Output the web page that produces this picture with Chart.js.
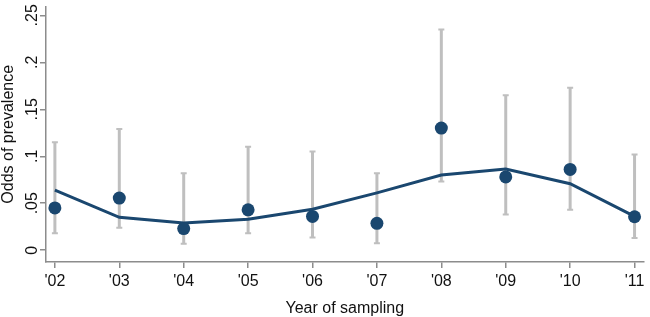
<!DOCTYPE html>
<html lang="en">
  <head>
    <meta charset="UTF-8" />
    <title>Odds of prevalence by year of sampling</title>
    <script src="https://cdn.jsdelivr.net/npm/chart.js"></script>
    <style>
      body {
        margin: 0;
        background: #fff;
      }
      .chart-container {
        width: 650px;
        height: 317px;
      }
    </style>
  </head>
  <body>
    <div class="chart-container">
      <canvas id="oddsChart" width="650" height="317"></canvas>
    </div>

    <script>
      // data
      const years = [2002, 2003, 2004, 2005, 2006, 2007, 2008, 2009, 2010, 2011];
      const yearLabels = ["'02", "'03", "'04", "'05", "'06", "'07", "'08", "'09", "'10", "'11"];
      const odds = [0.045, 0.0555, 0.023, 0.043, 0.036, 0.0286, 0.13, 0.078, 0.086, 0.0356];
      const lowerCI = [0.018, 0.024, 0.007, 0.018, 0.0136, 0.0073, 0.073, 0.038, 0.043, 0.013];
      const upperCI = [0.115, 0.129, 0.082, 0.11, 0.105, 0.082, 0.235, 0.165, 0.173, 0.102];
      const fitted = [0.064, 0.035, 0.029, 0.033, 0.0436, 0.061, 0.08, 0.0865, 0.0708, 0.036];
      const yTickValues = [0, 0.05, 0.1, 0.15, 0.2, 0.25];
      const yTickLabels = ["0", ".05", ".1", ".15", ".2", ".25"];

      const navy = "#1a476f";
      const axisGrey = "#8c8c8c";
      const fontFamily = "'Liberation Sans', Arial, sans-serif";

      // grey confidence bars with small caps, drawn under the line and dots
      const errorBars = {
        id: "errorBars",
        beforeDatasetsDraw(chart) {
          const ctx = chart.ctx;
          const xs = chart.scales.x;
          const ys = chart.scales.y;
          ctx.save();
          ctx.strokeStyle = "#bfbfbf";
          for (let i = 0; i < years.length; i++) {
            const x = xs.getPixelForValue(years[i]);
            const yLo = ys.getPixelForValue(lowerCI[i]);
            const yHi = ys.getPixelForValue(upperCI[i]);
            ctx.lineWidth = 3;
            ctx.beginPath();
            ctx.moveTo(x, yLo);
            ctx.lineTo(x, yHi);
            ctx.stroke();
            ctx.lineWidth = 2;
            ctx.beginPath();
            ctx.moveTo(x - 3, yLo);
            ctx.lineTo(x + 3, yLo);
            ctx.moveTo(x - 3, yHi);
            ctx.lineTo(x + 3, yHi);
            ctx.stroke();
          }
          ctx.restore();
        },
      };

      new Chart(document.getElementById("oddsChart"), {
        type: "scatter",
        data: {
          datasets: [
            {
              label: "Odds",
              data: years.map((y, i) => ({ x: y, y: odds[i] })),
              backgroundColor: navy,
              borderColor: navy,
              borderWidth: 0,
              pointRadius: 6.5,
              showLine: false,
              order: 1,
            },
            {
              label: "Fitted",
              type: "line",
              data: years.map((y, i) => ({ x: y, y: fitted[i] })),
              borderColor: navy,
              borderWidth: 3,
              pointRadius: 0,
              fill: false,
              tension: 0,
              order: 2,
            },
          ],
        },
        options: {
          responsive: false,
          animation: false,
          layout: { padding: { top: 2, left: 0, right: 0, bottom: 0 } },
          plugins: {
            legend: { display: false },
            tooltip: { enabled: false },
          },
          scales: {
            x: {
              type: "linear",
              min: 2001.862,
              max: 2011.139,
              afterBuildTicks: (scale) => {
                scale.ticks = years.map((v) => ({ value: v }));
              },
              afterFit: (scale) => {
                scale.height = 55;
                scale.paddingLeft = 0;
                scale.paddingRight = 0;
              },
              ticks: {
                callback: (v) => yearLabels[years.indexOf(v)],
                color: "#111",
                font: { family: fontFamily, size: 16 },
                padding: 4,
                maxRotation: 0,
                autoSkip: false,
              },
              grid: {
                drawOnChartArea: false,
                drawTicks: true,
                tickLength: 6,
                color: axisGrey,
                lineWidth: 1.5,
              },
              border: { display: true, color: axisGrey, width: 1.5 },
              title: {
                display: true,
                text: "Year of sampling",
                color: "#111",
                font: { family: fontFamily, size: 16, lineHeight: 1 },
                padding: { top: 0, bottom: 0 },
              },
            },
            y: {
              min: -0.01255,
              max: 0.2594,
              afterBuildTicks: (scale) => {
                scale.ticks = yTickValues.map((v) => ({ value: v }));
              },
              afterFit: (scale) => {
                scale.width = 46;
                scale.paddingTop = 0;
                scale.paddingBottom = 0;
              },
              ticks: {
                callback: (v) => yTickLabels[yTickValues.indexOf(v)],
                color: "#111",
                font: { family: fontFamily, size: 16 },
                minRotation: 90,
                maxRotation: 90,
                crossAlign: "center",
                padding: -4,
              },
              grid: {
                drawOnChartArea: false,
                drawTicks: true,
                tickLength: 6,
                color: axisGrey,
                lineWidth: 1.5,
              },
              border: { display: true, color: axisGrey, width: 1.5 },
              title: {
                display: true,
                text: "Odds of prevalence",
                color: "#111",
                font: { family: fontFamily, size: 16, lineHeight: 1 },
                padding: { top: 1, bottom: 0 },
              },
            },
          },
        },
        plugins: [errorBars],
      });
    </script>
  </body>
</html>
